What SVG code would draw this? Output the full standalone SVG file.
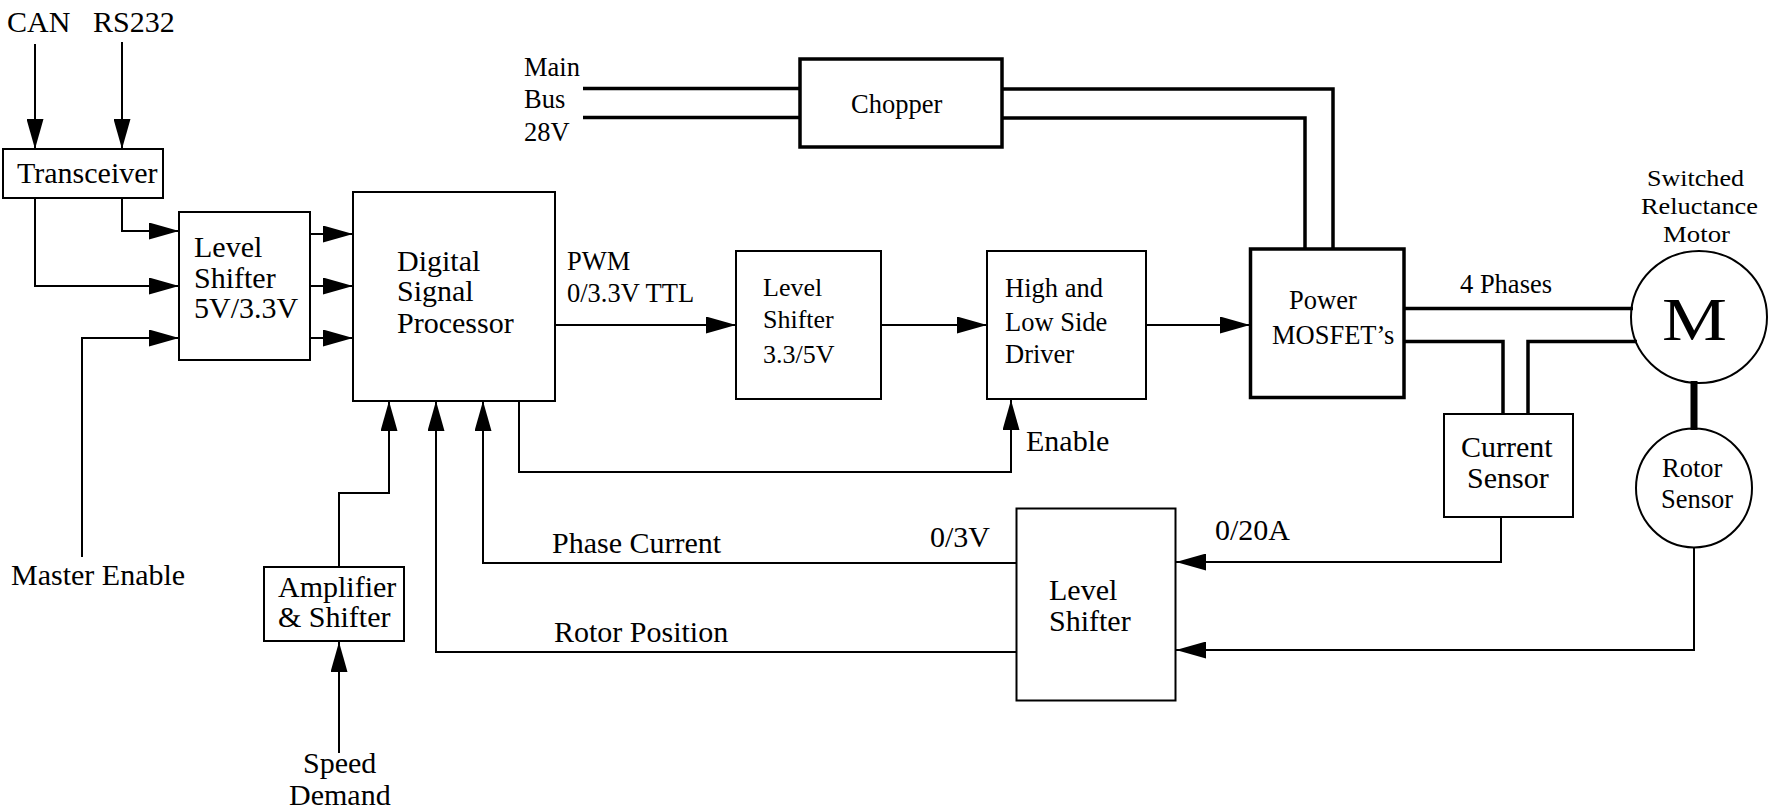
<svg xmlns="http://www.w3.org/2000/svg" width="1769" height="812" viewBox="0 0 1769 812">
<defs>
<marker id="ah" markerUnits="userSpaceOnUse" markerWidth="31" markerHeight="17" refX="30" refY="8.5" orient="auto">
<path d="M0,0 L30,8.5 L0,17 Z" fill="#000"/>
</marker>
<style>
text{font-family:"Liberation Serif","Times New Roman",serif;font-size:30px;fill:#000}
.s{font-size:26.5px}
.m{font-size:24px}
.box{fill:none;stroke:#000;stroke-width:2}
.tbox{fill:none;stroke:#000;stroke-width:3.5}
.ln{fill:none;stroke:#000;stroke-width:2}
.arr{fill:none;stroke:#000;stroke-width:2;marker-end:url(#ah)}
.thk{fill:none;stroke:#000;stroke-width:3.5}
</style>
</defs>
<rect width="1769" height="812" fill="#fff"/>

<g id="labels">
<text x="7" y="32">CAN</text>
<text x="93" y="32">RS232</text>
<text x="11" y="585">Master Enable</text>
<text x="303" y="773">Speed</text>
<text x="289" y="805">Demand</text>
<text class="s" x="524" y="76">Main</text>
<text class="s" x="524" y="108">Bus</text>
<text class="s" x="524" y="141">28V</text>
<text class="s" x="567" y="270">PWM</text>
<text class="s" x="567" y="302">0/3.3V TTL</text>
<text x="1026" y="451">Enable</text>
<text x="552" y="553">Phase Current</text>
<text x="930" y="547">0/3V</text>
<text x="554" y="642">Rotor Position</text>
<text x="1215" y="540">0/20A</text>
<text class="s" x="1460" y="293">4 Phases</text>
</g>

<g id="connectors">
<line class="arr" x1="35" y1="44" x2="35" y2="149"/>
<line class="arr" x1="122" y1="42" x2="122" y2="149"/>
<polyline class="arr" points="122,198 122,231 179,231"/>
<polyline class="arr" points="35,198 35,286 179,286"/>
<polyline class="arr" points="82,557 82,338 179,338"/>
<line class="arr" x1="310" y1="234" x2="353" y2="234"/>
<line class="arr" x1="310" y1="286" x2="353" y2="286"/>
<line class="arr" x1="310" y1="338" x2="353" y2="338"/>
<line class="arr" x1="555" y1="325" x2="736" y2="325"/>
<line class="arr" x1="881" y1="325" x2="987" y2="325"/>
<line class="arr" x1="1146" y1="325" x2="1250" y2="325"/>
<polyline class="arr" points="519,401 519,472 1011,472 1011,400"/>
<polyline class="arr" points="339,567 339,493 389,493 389,401"/>
<line class="arr" x1="339" y1="753" x2="339" y2="642"/>
<polyline class="arr" points="1017,563 483,563 483,401"/>
<polyline class="arr" points="1017,652 436,652 436,401"/>
<polyline class="arr" points="1501,517 1501,562 1176,562"/>
<polyline class="arr" points="1694,548 1694,650 1176,650"/>
<line class="thk" x1="583" y1="88.5" x2="800" y2="88.5"/>
<line class="thk" x1="583" y1="117.5" x2="800" y2="117.5"/>
<polyline class="thk" points="1002,89 1333,89 1333,248"/>
<polyline class="thk" points="1002,118 1305,118 1305,248"/>
<line class="thk" x1="1404" y1="308.5" x2="1633" y2="308.5"/>
<polyline class="thk" points="1404,341.5 1503,341.5 1503,414"/>
<polyline class="thk" points="1637,341.5 1528,341.5 1528,414"/>
<line x1="1694" y1="381" x2="1694" y2="430" stroke="#000" stroke-width="7"/>
</g>

<g id="transceiver">
<rect class="box" x="3" y="149" width="160" height="49"/>
<text x="17" y="183">Transceiver</text>
</g>

<g id="level-shifter-1">
<rect class="box" x="179" y="212" width="131" height="148"/>
<text x="194" y="257">Level</text>
<text x="194" y="288">Shifter</text>
<text x="194" y="318">5V/3.3V</text>
</g>

<g id="dsp">
<rect class="box" x="353" y="192" width="202" height="209"/>
<text x="397" y="271">Digital</text>
<text x="397" y="301">Signal</text>
<text x="397" y="333">Processor</text>
</g>

<g id="amplifier">
<rect class="box" x="264" y="567" width="140" height="74"/>
<text x="278" y="597">Amplifier</text>
<text x="278" y="627">&amp; Shifter</text>
</g>

<g id="chopper">
<rect class="tbox" x="800" y="59" width="202" height="88"/>
<text class="s" x="851" y="113">Chopper</text>
</g>

<g id="level-shifter-2">
<rect class="box" x="736" y="251" width="145" height="148"/>
<text x="763" y="296" style="font-size:26px">Level</text>
<text x="763" y="328" style="font-size:26px">Shifter</text>
<text x="763" y="363" style="font-size:26px">3.3/5V</text>
</g>

<g id="driver">
<rect class="box" x="987" y="251" width="159" height="148"/>
<text class="s" x="1005" y="297">High and</text>
<text class="s" x="1005" y="331">Low Side</text>
<text class="s" x="1005" y="363">Driver</text>
</g>

<g id="mosfet">
<rect class="tbox" x="1250.5" y="249" width="153.5" height="148.5"/>
<text class="s" x="1289" y="309">Power</text>
<text class="s" x="1272" y="344">MOSFET’s</text>
</g>

<g id="current-sensor">
<rect class="box" x="1444" y="414" width="129" height="103"/>
<text x="1461" y="457">Current</text>
<text x="1467" y="488">Sensor</text>
</g>

<g id="level-shifter-3">
<rect class="box" x="1016.5" y="508.5" width="159" height="192"/>
<text x="1049" y="600">Level</text>
<text x="1049" y="631">Shifter</text>
</g>

<g id="motor">
<ellipse cx="1699" cy="317" rx="68" ry="66" fill="none" stroke="#000" stroke-width="2"/>
<text x="1662" y="340" style="font-size:62px" textLength="65" lengthAdjust="spacingAndGlyphs">M</text>
<text class="m" x="1647" y="186" textLength="97" lengthAdjust="spacingAndGlyphs">Switched</text>
<text class="m" x="1641" y="214" textLength="117" lengthAdjust="spacingAndGlyphs">Reluctance</text>
<text class="m" x="1663" y="242" textLength="67" lengthAdjust="spacingAndGlyphs">Motor</text>
</g>

<g id="rotor-sensor">
<ellipse cx="1694" cy="488" rx="58" ry="59.5" fill="none" stroke="#000" stroke-width="2"/>
<text class="s" x="1662" y="477">Rotor</text>
<text class="s" x="1661" y="508">Sensor</text>
</g>
</svg>
